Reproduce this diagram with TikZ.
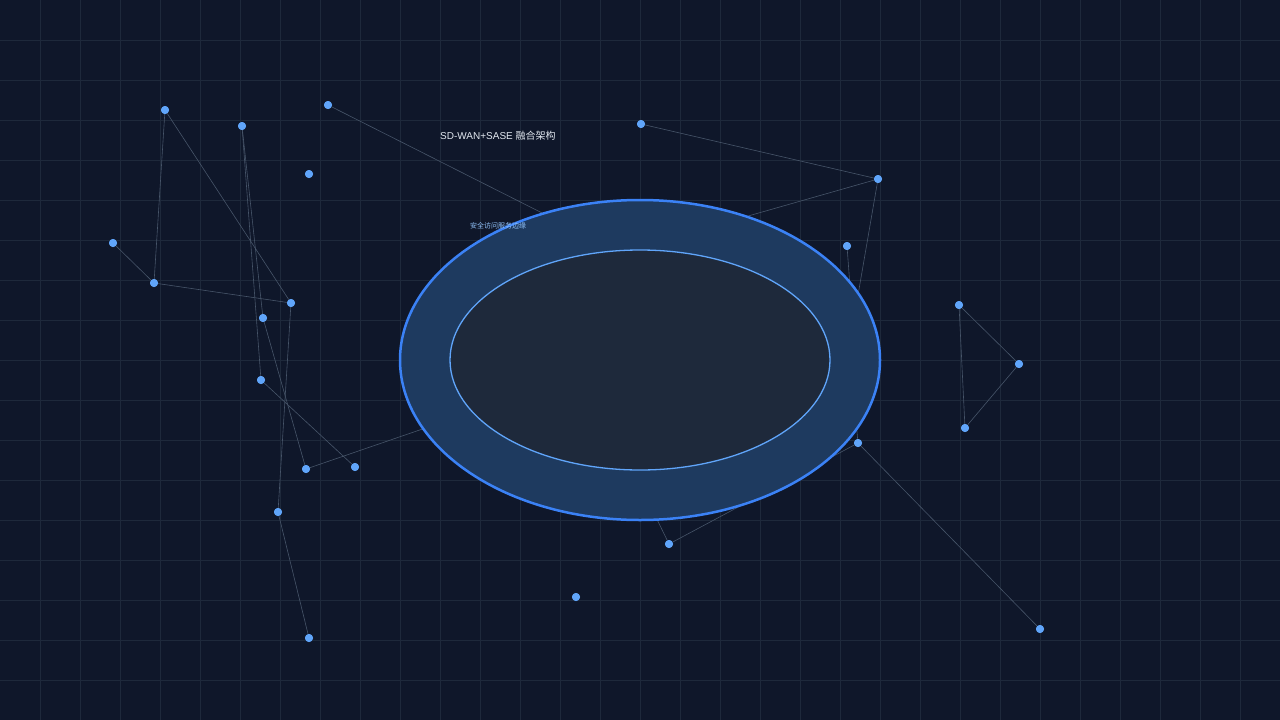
\documentclass[tikz,border=0pt]{standalone}
\usepackage{fontspec}
\setmainfont{Liberation Sans}
\newfontfamily\cjk{Noto Sans CJK SC}

\definecolor{sfondo}{HTML}{0F172A}
\definecolor{griglia}{HTML}{1E293B}
\definecolor{linea}{HTML}{475569}
\definecolor{azzurro}{HTML}{60A5FA}
\definecolor{anello}{HTML}{1E3A5F}
\definecolor{blu}{HTML}{3B82F6}
\definecolor{nucleo}{HTML}{1E293B}
\definecolor{chiaro}{HTML}{E2E8F0}
\definecolor{celeste}{HTML}{93C5FD}

\tikzset{
    punto/.style={circle, fill=azzurro, inner sep=0pt, minimum size=8pt},
    collegamento/.style={draw=linea, line width=0.6pt},
    titolo/.style={text=chiaro, font=\fontsize{10}{12}\selectfont, inner sep=0pt},
    etichetta/.style={text=celeste, font=\fontsize{7}{8}\selectfont, inner sep=0pt}
}

\begin{document}
\begin{tikzpicture}[x=1pt, y=-1pt]
    % Sfondo e griglia
    \fill[sfondo] (0,0) rectangle (1280,720);
    \useasboundingbox (0,0) rectangle (1280,720);
    \foreach \x in {40,80,...,1240}
        \draw[griglia, line width=1pt] (\x,0) -- (\x,720);
    \foreach \y in {40,80,...,680}
        \draw[griglia, line width=1pt] (0,\y) -- (1280,\y);

    % Punti della rete
    \node[punto] (a) at (165,110) {};
    \node[punto] (b) at (242,126) {};
    \node[punto] (c) at (328,105) {};
    \node[punto] (d) at (309,174) {};
    \node[punto] (e) at (113,243) {};
    \node[punto] (f) at (154,283) {};
    \node[punto] (g) at (291,303) {};
    \node[punto] (h) at (263,318) {};
    \node[punto] (i) at (261,380) {};
    \node[punto] (j) at (306,469) {};
    \node[punto] (k) at (355,467) {};
    \node[punto] (l) at (278,512) {};
    \node[punto] (m) at (309,638) {};
    \node[punto] (n) at (641,124) {};
    \node[punto] (o) at (878,179) {};
    \node[punto] (p) at (847,246) {};
    \node[punto] (q) at (959,305) {};
    \node[punto] (r) at (1019,364) {};
    \node[punto] (s) at (965,428) {};
    \node[punto] (t) at (858,443) {};
    \node[punto] (u) at (669,544) {};
    \node[punto] (v) at (576,597) {};
    \node[punto] (w) at (1040,629) {};

    % Estremi nascosti dietro l'anello
    \coordinate (hc) at (560,222);
    \coordinate (ho1) at (720,224);
    \coordinate (ho2) at (852,330);
    \coordinate (hp) at (851,300);
    \coordinate (ht) at (855,410);
    \coordinate (hu) at (650,505);
    \coordinate (hj) at (440,423);

    % Collegamenti
    \draw[collegamento] (a) -- (f);
    \draw[collegamento] (a) -- (g);
    \draw[collegamento] (e) -- (f);
    \draw[collegamento] (f) -- (g);
    \draw[collegamento] (b) -- (h);
    \draw[collegamento] (b) -- (i);
    \draw[collegamento] (h) -- (j);
    \draw[collegamento] (g) -- (l);
    \draw[collegamento] (i) -- (k);
    \draw[collegamento] (l) -- (m);
    \draw[collegamento] (j) -- (hj);
    \draw[collegamento] (c) -- (hc);
    \draw[collegamento] (n) -- (o);
    \draw[collegamento] (o) -- (ho1);
    \draw[collegamento] (o) -- (ho2);
    \draw[collegamento] (p) -- (hp);
    \draw[collegamento] (q) -- (r);
    \draw[collegamento] (r) -- (s);
    \draw[collegamento] (q) -- (s);
    \draw[collegamento] (t) -- (w);
    \draw[collegamento] (t) -- (ht);
    \draw[collegamento] (u) -- (t);
    \draw[collegamento] (u) -- (hu);

    % Anello esterno e nucleo
    \draw[blu, line width=2.5pt, fill=anello] (640,360) ellipse [x radius=240pt, y radius=160pt];
    \draw[azzurro, line width=1.3pt, fill=nucleo] (640,360) ellipse [x radius=190pt, y radius=110pt];

    % Punti sopra i collegamenti
    \foreach \p in {a,b,c,d,e,f,g,h,i,j,k,l,m,n,o,p,q,r,s,t,u,v,w}
        \fill[azzurro] (\p) circle (4pt);

    % Testi
    \node[titolo, anchor=west] (titolo) at (440,136) {SD-WAN+SASE {\cjk 融合架构}};
    \node[etichetta, anchor=west] (sotto) at (470,226) {\cjk 安全访问服务边缘};
\end{tikzpicture}
\end{document}
